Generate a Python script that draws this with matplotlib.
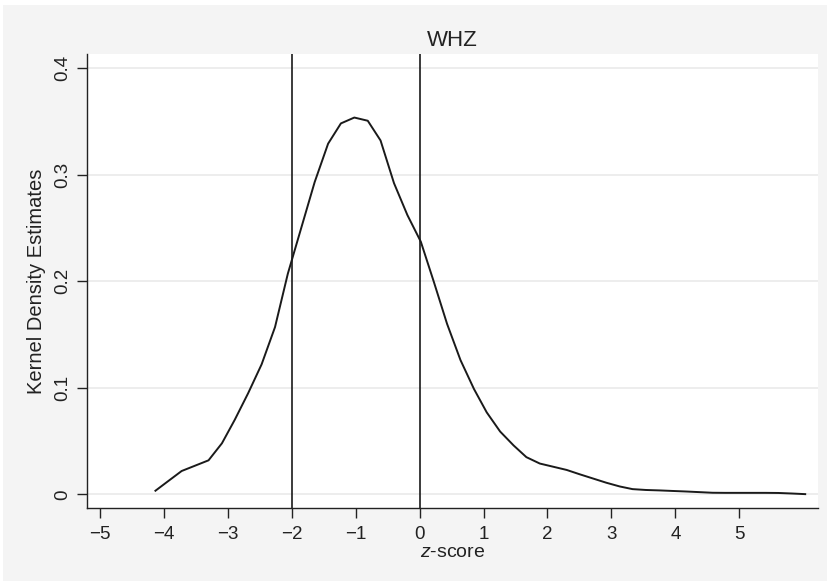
import matplotlib
matplotlib.use("Agg")
import matplotlib.pyplot as plt
from matplotlib.patches import Rectangle

plt.rcParams['font.family'] = ['Liberation Sans', 'DejaVu Sans']
plt.rcParams['mathtext.fontset'] = 'custom'
plt.rcParams['mathtext.it'] = 'Liberation Sans:italic'
plt.rcParams['mathtext.rm'] = 'Liberation Sans'

# kernel density estimate of WHZ
z_score = [-4.13, -3.92, -3.72, -3.51, -3.30, -3.09, -2.89, -2.68, -2.47, -2.26,
           -2.06, -1.85, -1.64, -1.43, -1.23, -1.02, -0.81, -0.61, -0.40, -0.19,
           0.02, 0.22, 0.43, 0.64, 0.85, 1.05, 1.26, 1.47, 1.67, 1.88,
           2.09, 2.30, 2.50, 2.71, 2.92, 3.13, 3.33, 3.54, 3.75, 3.95,
           4.16, 4.37, 4.58, 4.78, 4.99, 5.20, 5.41, 5.61, 5.82, 6.03]
density = [0.0035, 0.013, 0.022, 0.027, 0.032, 0.048, 0.070, 0.095, 0.122, 0.157,
           0.207, 0.250, 0.293, 0.329, 0.348, 0.3535, 0.3505, 0.332, 0.292, 0.262,
           0.237, 0.200, 0.160, 0.126, 0.099, 0.077, 0.059, 0.046, 0.035, 0.029,
           0.026, 0.023, 0.019, 0.015, 0.011, 0.0075, 0.005, 0.0042, 0.0038, 0.0033,
           0.0028, 0.0022, 0.0016, 0.0015, 0.0015, 0.0015, 0.0015, 0.0014, 0.0009, 0.0003]
cutoffs = [-2, 0]
x_ticks = [-5, -4, -3, -2, -1, 0, 1, 2, 3, 4, 5]
y_ticks = [0, 0.1, 0.2, 0.3, 0.4]
y_tick_labels = ["0", "0.1", "0.2", "0.3", "0.4"]

text_col = "#222222"

fig = plt.figure(figsize=(8.28, 5.81), dpi=100)
fig.patch.set_facecolor("white")
fig.patches.append(Rectangle((3 / 828, 0), 1, 1 - 5 / 581, transform=fig.transFigure,
                             facecolor="#f4f4f4", edgecolor="none", zorder=-10))

ax = fig.add_axes([87 / 828, 1 - 508 / 581, (818 - 87) / 828, (508 - 54) / 581])
ax.set_facecolor("white")

for c in cutoffs:
    ax.axvline(c, color="#1a1a1a", lw=1.2, zorder=2)
ax.plot(z_score, density, color="#1a1a1a", lw=1.4, zorder=3)

ax.set_xlim(-5.2, 6.23)
ax.set_ylim(-0.0127, 0.4131)
ax.set_xticks(x_ticks)
ax.set_xticklabels([str(t).replace("-", "\u2212") for t in x_ticks])
ax.set_yticks(y_ticks)
ax.set_yticklabels(y_tick_labels, rotation=90, va="center")

ax.grid(axis="y", color="#eaeaea", lw=1.2, zorder=0)
ax.set_axisbelow(True)
for s in ["top", "right"]:
    ax.spines[s].set_visible(False)
for s in ["left", "bottom"]:
    ax.spines[s].set_color("#222222")
    ax.spines[s].set_linewidth(1.0)

ax.tick_params(axis="both", direction="out", length=7, width=1.0, color="#222222",
               labelsize=13.5, labelcolor=text_col)
ax.tick_params(axis="x", pad=6)
ax.tick_params(axis="y", pad=4)

ax.set_title("WHZ", fontsize=16, color=text_col, pad=6)
ax.set_xlabel("$\\it{z}$-score", fontsize=14, color=text_col, labelpad=1)
ax.set_ylabel("Kernel Density Estimates", fontsize=14.5, color=text_col, labelpad=6)

fig.savefig("out.png", dpi=100)
